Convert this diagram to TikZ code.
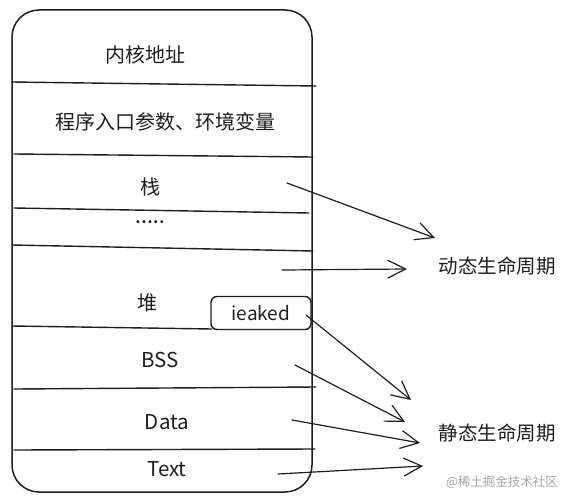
\documentclass[tikz,border=0pt]{standalone}
\usepackage{fontspec}
\setmainfont{Noto Sans CJK SC}
\usetikzlibrary{arrows.meta}
\definecolor{ink}{HTML}{1E1E1E}
\tikzset{
  sk/.style={draw=ink, line width=1.4pt, line cap=round},
  cell/.style={font=\fontsize{20}{22}\selectfont, text=ink, inner sep=0pt},
  lat/.style={font=\fontsize{20.5}{22}\selectfont, text=ink, inner sep=0pt},
  lab/.style={font=\fontsize{19.5}{22}\selectfont, text=ink, inner sep=0pt},
  arr/.style={sk, line width=1.2pt, -{Straight Barb[length=18pt,width=18pt,line width=1.2pt]}},
}
\begin{document}
\begin{tikzpicture}[x=1pt,y=-1pt]
\useasboundingbox (0,0) rectangle (569,503);
\fill[white] (0,0) rectangle (569,503);
% outer box
\draw[sk, line width=1.5pt, rounded corners=27pt] (12,10) rectangle (312,492);
% separators
\draw[sk] (12,82) -- (316,86);
\draw[sk] (14,154) -- (313,157);
\draw[sk] (14,208) -- (309,213);
\draw[sk] (12,245) -- (313,251);
\draw[sk] (12,326) -- (212,329);
\draw[sk] (14,389) -- (316,387);
\draw[sk] (14,450) -- (315,449);
% leaked box
\node[sk, rounded corners=6pt, minimum width=100pt, minimum height=33pt, inner sep=0pt,
      font=\fontsize{19}{20}\selectfont, text=ink] (leak) at (261,313) {ieaked};
% cell texts
\node[cell] (kern) at (145,55) {内核地址};
\node[cell] (env) at (165,122) {程序入口参数、环境变量};
\node[cell] (stack) at (150,187) {栈};
\node[font=\fontsize{14}{16}\selectfont\bfseries, text=ink, inner sep=0pt] (dots) at (150,222) {.\kern1pt.\kern1pt.\kern1pt.\kern1pt.};
\node[cell] (heap) at (147,303) {堆};
\node[lat] (bss) at (160,360) {BSS};
\node[lat] (data) at (167,422) {Data};
\node[lat] (text) at (167,469) {Text};
% labels
\node[lab] (dyn) at (497,266) {动态生命周期};
\node[lab] (sta) at (497,433) {静态生命周期};
\node[font=\fontsize{12.5}{14}\selectfont, text=black!35, inner sep=0pt] (wm) at (502,482) {@稀土掘金技术社区};
% arrow coordinates
\coordinate (s1) at (287,183); \coordinate (e1) at (435,238);
\coordinate (s2) at (282,270); \coordinate (e2) at (407,269);
\coordinate (s3) at (306,315); \coordinate (e3) at (411,400);
\coordinate (s4) at (295,365); \coordinate (e4) at (405,422);
\coordinate (s5) at (292,420); \coordinate (e5) at (420,443);
\coordinate (s6) at (278,474); \coordinate (e6) at (423,466);
\draw[arr] (s1) -- (e1);
\draw[arr] (s2) -- (e2);
\draw[arr] (s3) -- (e3);
\draw[arr] (s4) -- (e4);
\draw[arr] (s5) -- (e5);
\draw[arr] (s6) -- (e6);
\end{tikzpicture}
\end{document}
